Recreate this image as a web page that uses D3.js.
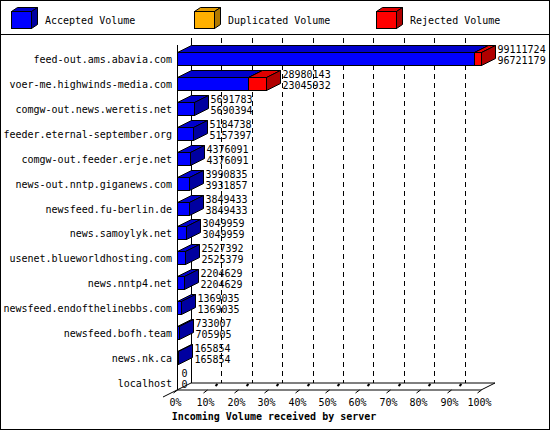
<!DOCTYPE html>
<html><head><meta charset="utf-8">
<script src="https://cdn.jsdelivr.net/npm/d3@7"></script>
<style>body{margin:0;background:#fff}text{font-family:"DejaVu Sans Mono",monospace;font-size:10px}</style>
</head><body>
<script>
// servers, offered (total) volume, accepted volume, and what the rest was
var servers = ['feed-out.ams.abavia.com', 'voer-me.highwinds-media.com', 'comgw-out.news.weretis.net',
  'feeder.eternal-september.org', 'comgw-out.feeder.erje.net', 'news-out.nntp.giganews.com',
  'newsfeed.fu-berlin.de', 'news.samoylyk.net', 'usenet.blueworldhosting.com', 'news.nntp4.net',
  'newsfeed.endofthelinebbs.com', 'newsfeed.bofh.team', 'news.nk.ca', 'localhost'];
var offered = [99111724, 28980143, 5691783, 5184738, 4376091, 3990835, 3849433, 3049959, 2527392, 2204629, 1369035, 733007, 165854, 0];
var accepted = [96721179, 23045932, 5690394, 5157397, 4376091, 3931857, 3849433, 3049959, 2525379, 2204629, 1369035, 705905, 165854, 0];
var restType = ['rej', 'rej', 'dup', 'dup', 'acc', 'rej', 'acc', 'acc', 'rej', 'acc', 'acc', 'dup', 'acc', 'acc'];
var ticks = [0, 10, 20, 30, 40, 50, 60, 70, 80, 90, 100];

var W = 550, H = 430, dx = 14, dy = 7;
var col = {
  acc: {f: '#0000ff', t: '#0000cc', s: '#0000a0'},
  dup: {f: '#ffb000', t: '#e09a00', s: '#b07800'},
  rej: {f: '#ff0000', t: '#e00000', s: '#b00000'}
};

var svg = d3.select('body').append('svg').attr('width', W).attr('height', H);
svg.append('rect').attr('x', 0.5).attr('y', 0.5).attr('width', W - 1).attr('height', H - 1)
  .attr('fill', '#fff').attr('stroke', '#000');
svg.append('line').attr('x1', 0).attr('x2', W).attr('y1', 34.5).attr('y2', 34.5).attr('stroke', '#000');

// legend
var legend = [['acc', 'Accepted Volume', 11], ['dup', 'Duplicated Volume', 194], ['rej', 'Rejected Volume', 376]];
function box(g, x, y, w, h, c, ddx, ddy) {
  g.append('path').attr('d', 'M' + x + ',' + y + 'l' + ddx + ',' + (-ddy) + 'h' + w + 'l' + (-ddx) + ',' + ddy + 'z')
    .attr('fill', c.t).attr('stroke', '#000');
  g.append('path').attr('d', 'M' + (x + w) + ',' + y + 'l' + ddx + ',' + (-ddy) + 'v' + h + 'l' + (-ddx) + ',' + ddy + 'z')
    .attr('fill', c.s).attr('stroke', '#000');
  g.append('rect').attr('x', x).attr('y', y).attr('width', w).attr('height', h)
    .attr('fill', c.f).attr('stroke', '#000');
}
legend.forEach(function(l) {
  box(svg, l[2] + 0.5, 11.5, 20, 17, col[l[0]], 6, 4);
  svg.append('text').attr('x', l[2] + 34).attr('y', 24).text(l[1]);
});

var x = d3.scaleLinear().domain([0, d3.max(offered)]).range([177, 481]);
var pct = d3.scaleLinear().domain([0, 100]).range([177, 481]);
var y = d3.scaleLinear().domain([0, servers.length - 1]).range([59, 383]);
var yBot = 390, yTop = 45;

var grid = svg.append('g').attr('stroke', '#000').attr('fill', 'none');
// back wall and floor
grid.append('line').attr('x1', 191.5).attr('x2', 191.5).attr('y1', yTop - dy).attr('y2', yBot - dy);
grid.append('line').attr('x1', 177.5).attr('x2', 177.5).attr('y1', yTop).attr('y2', yBot);
grid.append('path').attr('d', 'M163,' + (yBot + 7) + 'L191,' + (yBot - dy) + 'H495L481,' + yBot + 'H177');
ticks.slice(1, 10).forEach(function(t) {
  grid.append('line').attr('x1', Math.round(pct(t)) + dx + 0.5).attr('x2', Math.round(pct(t)) + dx + 0.5)
    .attr('y1', yTop - dy).attr('y2', yBot - dy).attr('stroke-dasharray', '5,4');
});
ticks.forEach(function(t) {
  var px = Math.round(pct(t)) + 0.5;
  grid.append('line').attr('x1', px).attr('x2', px - 4).attr('y1', yBot).attr('y2', yBot + 3);
  if (t > 0 && t < 100) grid.append('line').attr('x1', px + dx / 2 + 3).attr('x2', px + dx / 2 + 1)
    .attr('y1', yBot - dy + 1).attr('y2', yBot - dy + 3).attr('stroke-width', 2);
  svg.append('text').attr('x', px - 2).attr('y', yBot + 16).attr('text-anchor', 'middle').text(t + '%');
});

// bars
servers.forEach(function(s, i) {
  var yc = y(i), top = Math.round(yc) - 6.5, h = 13;
  svg.append('text').attr('x', 172).attr('y', yc + 4).attr('text-anchor', 'end').text(s);
  var g = svg.append('g');
  var x0 = Math.round(x(0)) + 0.5, x1 = Math.round(x(accepted[i])) + 0.5, x2 = Math.round(x(offered[i])) + 0.5;
  if (offered[i] > 0) {
    box(g, x0, top, x1 - x0, h, col.acc, dx, dy);
    if (x2 > x1) box(g, x1, top, x2 - x1, h, col[restType[i]], dx, dy);
  }
  var lx = (offered[i] > 0 ? x2 + dx : x0 + 2) + 2;
  svg.append('text').attr('x', lx).attr('y', top + 0).text(offered[i]);
  svg.append('text').attr('x', lx).attr('y', top + 11).text(accepted[i]);
});

svg.append('text').attr('x', 274).attr('y', 420).attr('text-anchor', 'middle')
  .attr('font-weight', 'bold').attr('font-size', '11px').text('Incoming Volume received by server');
</script>
</body></html>
